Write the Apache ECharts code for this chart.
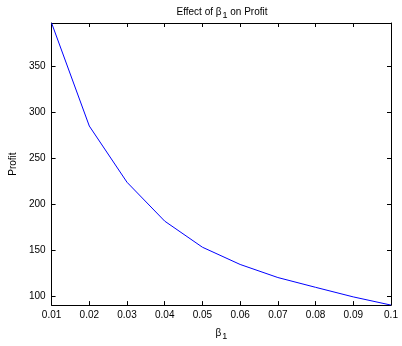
<!DOCTYPE html>
<html><head><meta charset="utf-8">
<script src="https://cdn.jsdelivr.net/npm/echarts@6/dist/echarts.min.js"></script>
<style>html,body{margin:0;padding:0;background:#fff}#c{width:402px;height:346px}</style>
</head><body><div id="c"></div>
<script>
const beta = [0.01,0.02,0.03,0.04,0.05,0.06,0.07,0.08,0.09,0.10];
const profit = [396.8,285.0,224.0,181.8,153.5,134.8,120.6,110.0,99.6,90.7];
const yTicks = [100,150,200,250,300,350];
const xTicks = [0.01,0.02,0.03,0.04,0.05,0.06,0.07,0.08,0.09,0.1];

const FONT = '"Liberation Sans", Arial, sans-serif';
const chart = echarts.init(document.getElementById('c'), null, {renderer:'canvas'});
const fmtX = v => String(parseFloat(v.toFixed(2)));
const axLine = {show:true, lineStyle:{color:'#000', width:1}};
const tick = {show:true, inside:true, length:4, lineStyle:{color:'#000'}};
const richSub = {
  a:{fontFamily:FONT,fontSize:10,fontWeight:'normal',color:'#000',lineHeight:14},
  s:{fontFamily:FONT,fontSize:9,fontWeight:'normal',color:'#000',lineHeight:14,padding:[7,0,0,1]}
};
chart.setOption({
  animation:false,
  backgroundColor:'#fff',
  title:{
    text:'{a|Effect of β}{s|1}{a| on Profit}',
    left:217, top:0, textAlign:'center',
    textStyle:{fontWeight:'normal', rich:richSub}
  },
  grid:{left:44,right:11,top:23,bottom:37,containLabel:false},
  xAxis:[{
    type:'value', min:0.01, max:0.1, position:'bottom',
    axisLine:axLine, axisTick:Object.assign({customValues:xTicks},tick), splitLine:{show:false},
    axisLabel:{customValues:xTicks, formatter:fmtX, color:'#000', fontFamily:FONT, fontSize:10, margin:5},
    name:'{a|β}{s|1}', nameLocation:'middle', nameGap:20,
    nameTextStyle:{rich:richSub}
  },{
    type:'value', min:0.01, max:0.1, position:'top',
    axisLine:axLine, axisTick:Object.assign({customValues:xTicks},tick), splitLine:{show:false},
    axisLabel:{show:false}
  }],
  yAxis:[{
    type:'value', min:90.7, max:396.8, position:'left',
    axisLine:axLine, axisTick:Object.assign({customValues:yTicks},tick), splitLine:{show:false},
    axisLabel:{customValues:yTicks, color:'#000', fontFamily:FONT, fontSize:10, margin:6},
    name:'Profit', nameLocation:'middle', nameGap:31, nameRotate:90,
    nameTextStyle:{fontFamily:FONT,fontSize:10,color:'#000'}
  },{
    type:'value', min:90.7, max:396.8, position:'right',
    axisLine:axLine, axisTick:Object.assign({customValues:yTicks},tick), splitLine:{show:false},
    axisLabel:{show:false}
  }],
  series:[{
    type:'line', xAxisIndex:0, yAxisIndex:0,
    data: beta.map((b,i)=>[b, profit[i]]),
    showSymbol:false, symbol:'none',
    lineStyle:{color:'#0000ff', width:1},
    clip:true
  }]
});
</script></body></html>
